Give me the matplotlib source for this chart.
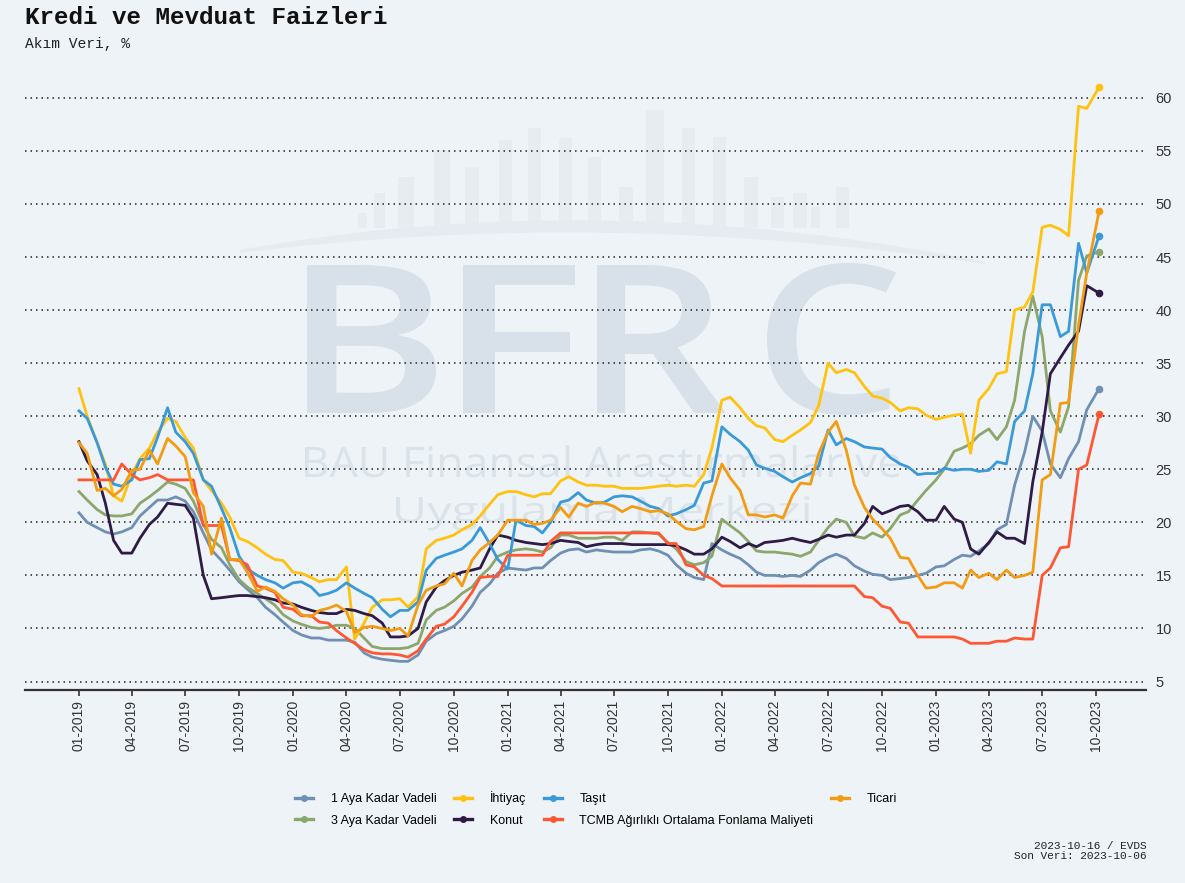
import matplotlib
matplotlib.use("Agg")
import numpy as np
import pandas as pd
import matplotlib.pyplot as plt
from matplotlib.lines import Line2D
from matplotlib.patches import PathPatch, Rectangle
from matplotlib.path import Path
from matplotlib.textpath import TextPath
from matplotlib.font_manager import FontProperties
from matplotlib.transforms import Affine2D

W, H = 1185, 883
BG = "#eef3f8"
SANS = "Liberation Sans"
MONO = "Liberation Mono"

# semi-monthly readings (1st and 15th), last point is the latest release
dates = pd.date_range("2019-01-01", "2023-09-15", freq="SMS").append(pd.DatetimeIndex(["2023-10-06"]))

dep_1m = [20.9, 20.0, 19.5, 19.1, 18.9, 19.1, 19.5, 20.6, 21.4, 22.1, 22.1, 22.4, 22.0, 21.0, 19.0, 17.4, 16.4, 15.5, 14.4, 13.7, 12.9, 12.0, 11.3, 10.6,
          9.8, 9.4, 9.1, 9.1, 8.9, 8.9, 8.9, 8.7, 7.7, 7.3, 7.1, 7.0, 6.9, 6.9, 7.5, 8.8, 9.5, 9.8, 10.2, 10.9, 12.1, 13.4, 14.2, 15.2,
          15.7, 15.6, 15.5, 15.7, 15.7, 16.4, 17.1, 17.4, 17.5, 17.2, 17.4, 17.3, 17.2, 17.2, 17.2, 17.4, 17.5, 17.3, 16.9, 16.0, 15.2, 14.8, 14.6, 18.0,
          17.4, 17.0, 16.6, 16.0, 15.3, 15.0, 15.0, 14.9, 15.0, 14.9, 15.5, 16.2, 16.7, 17.0, 16.6, 15.9, 15.4, 15.1, 15.0, 14.6, 14.7, 14.8, 15.0, 15.2,
          15.8, 15.9, 16.5, 16.9, 16.8, 17.3, 18.0, 19.3, 19.8, 23.5, 26.6, 30.0, 28.6, 25.5, 24.2, 26.0, 27.6, 30.6, 32.6]
dep_3m = [22.9, 22.1, 21.2, 20.7, 20.6, 20.6, 20.8, 21.8, 22.4, 23.0, 23.8, 23.6, 23.2, 22.0, 19.8, 18.4, 17.6, 16.0, 14.6, 13.9, 13.3, 12.8, 12.2, 11.3,
          10.7, 10.4, 10.1, 10.0, 10.1, 10.3, 10.3, 10.0, 9.1, 8.3, 8.1, 8.1, 8.1, 8.2, 8.6, 10.8, 11.7, 12.0, 12.6, 13.3, 13.9, 14.9, 15.7, 16.8,
          17.2, 17.4, 17.5, 17.4, 17.2, 17.6, 18.8, 18.8, 18.5, 18.5, 18.5, 18.6, 18.6, 18.3, 19.1, 19.1, 19.0, 18.9, 18.1, 17.5, 16.3, 16.0, 16.2, 16.8,
          20.3, 19.7, 19.0, 18.2, 17.3, 17.2, 17.2, 17.1, 17.0, 16.8, 17.2, 18.3, 19.5, 20.3, 20.0, 18.7, 18.5, 19.0, 18.6, 19.4, 20.7, 21.0, 22.1, 23.0,
          24.0, 25.0, 26.7, 27.0, 27.4, 28.2, 28.8, 27.8, 29.0, 31.5, 38.0, 41.3, 37.5, 30.5, 28.5, 30.9, 42.8, 45.1, 45.5]
personal = [32.6, 30.0, 27.5, 25.5, 22.5, 22.0, 24.5, 26.0, 27.0, 28.5, 29.8, 29.5, 28.0, 27.0, 24.0, 23.0, 21.8, 20.5, 18.5, 18.2, 17.6, 17.0, 16.5, 16.4,
            15.3, 15.2, 14.8, 14.4, 14.6, 14.6, 15.8, 9.0, 10.5, 12.0, 12.7, 12.7, 12.8, 12.0, 13.0, 17.5, 18.3, 18.5, 18.8, 19.3, 19.8, 20.6, 21.7, 22.6,
            22.9, 22.9, 22.6, 22.4, 22.7, 22.7, 23.9, 24.3, 23.8, 23.5, 23.5, 23.4, 23.4, 23.2, 23.2, 23.2, 23.3, 23.4, 23.5, 23.4, 23.5, 23.4, 24.5, 27.0,
            31.5, 31.8, 30.8, 29.8, 29.1, 28.9, 27.8, 27.6, 28.2, 28.7, 29.4, 31.0, 35.0, 34.1, 34.4, 34.1, 32.8, 31.9, 31.7, 31.3, 30.5, 30.8, 30.7, 30.1,
            29.7, 29.9, 30.1, 30.2, 26.5, 31.5, 32.6, 34.0, 34.2, 40.0, 40.3, 41.7, 47.8, 48.0, 47.6, 47.0, 59.2, 59.0, 61.0]
housing = [27.6, 25.8, 24.5, 21.8, 18.3, 17.1, 17.1, 18.5, 19.8, 20.5, 21.8, 21.7, 21.6, 20.4, 15.0, 12.8, 12.9, 13.0, 13.1, 13.1, 13.0, 12.9, 12.7, 12.4,
           12.3, 12.0, 11.7, 11.5, 11.4, 11.4, 11.8, 11.7, 11.4, 11.2, 10.5, 9.2, 9.2, 9.3, 10.0, 12.5, 13.9, 14.5, 15.0, 15.3, 15.5, 15.7, 17.5, 18.8,
           18.6, 18.3, 18.1, 18.0, 17.9, 18.0, 18.3, 18.2, 18.1, 17.7, 17.9, 18.0, 18.0, 18.0, 17.9, 17.9, 17.9, 17.9, 17.9, 17.8, 17.4, 17.0, 17.0, 17.5,
           18.6, 18.2, 17.6, 18.0, 17.7, 18.1, 18.2, 18.3, 18.5, 18.3, 18.1, 18.4, 18.8, 18.6, 18.8, 18.8, 19.9, 21.5, 20.8, 21.1, 21.5, 21.6, 21.0, 20.2,
           20.2, 21.5, 20.3, 20.0, 17.5, 17.0, 18.1, 19.1, 18.5, 18.5, 18.0, 23.8, 28.5, 34.0, 35.5, 36.7, 38.0, 42.3, 41.6]
vehicle = [30.5, 29.8, 27.5, 25.2, 23.6, 23.4, 24.0, 25.9, 26.0, 28.0, 30.8, 28.5, 27.6, 26.5, 24.0, 23.4, 21.3, 19.5, 16.8, 15.6, 15.0, 14.6, 14.3, 13.8,
           14.3, 14.4, 13.9, 13.1, 13.3, 13.6, 14.3, 13.8, 13.3, 12.9, 11.8, 11.1, 11.7, 11.7, 12.5, 15.5, 16.6, 16.9, 17.2, 17.5, 18.3, 19.5, 18.0, 16.5,
           15.6, 20.2, 19.7, 19.6, 19.0, 20.0, 21.9, 22.1, 22.8, 22.1, 21.8, 21.9, 22.4, 22.5, 22.4, 22.0, 21.5, 21.3, 20.6, 20.8, 21.2, 21.6, 23.7, 23.9,
           29.0, 28.3, 27.6, 26.8, 25.4, 25.1, 24.8, 24.3, 23.8, 24.2, 24.6, 25.3, 28.7, 27.3, 27.9, 27.6, 27.1, 27.0, 26.9, 26.1, 25.5, 25.2, 24.5, 24.6,
           24.6, 25.1, 24.9, 25.0, 25.0, 24.8, 24.9, 25.7, 25.5, 29.5, 30.5, 34.0, 40.5, 40.5, 37.5, 38.0, 46.3, 43.5, 47.0]
funding = [24.0, 24.0, 24.0, 24.0, 24.0, 25.5, 24.5, 24.0, 24.2, 24.5, 24.0, 24.0, 24.0, 24.0, 19.7, 19.7, 19.7, 16.5, 16.4, 16.0, 14.0, 13.8, 13.4, 12.0,
           11.8, 11.2, 11.2, 10.6, 10.5, 9.8, 9.1, 8.6, 8.0, 7.7, 7.6, 7.6, 7.5, 7.3, 7.9, 9.0, 10.2, 10.4, 11.1, 12.1, 13.4, 14.8, 14.9, 14.9,
           16.9, 16.9, 16.9, 16.9, 16.9, 18.2, 19.0, 19.0, 19.0, 19.0, 19.0, 19.0, 19.0, 19.0, 19.0, 19.0, 19.0, 19.0, 18.0, 18.0, 16.0, 15.8, 15.0, 14.7,
           14.0, 14.0, 14.0, 14.0, 14.0, 14.0, 14.0, 14.0, 14.0, 14.0, 14.0, 14.0, 14.0, 14.0, 14.0, 14.0, 13.0, 12.9, 12.1, 11.9, 10.6, 10.5, 9.2, 9.2,
           9.2, 9.2, 9.2, 9.0, 8.6, 8.6, 8.6, 8.8, 8.8, 9.1, 9.0, 9.0, 15.0, 15.7, 17.6, 17.7, 25.0, 25.4, 30.2]
commercial = [27.5, 26.5, 23.0, 23.2, 22.5, 23.1, 24.9, 25.0, 26.8, 25.5, 27.9, 27.2, 26.2, 22.8, 21.5, 17.0, 20.4, 16.5, 16.5, 15.3, 13.5, 13.9, 13.5, 12.8,
              12.2, 11.3, 11.1, 11.7, 11.9, 12.2, 11.6, 9.6, 10.1, 10.2, 10.0, 9.8, 10.0, 9.3, 12.2, 13.6, 14.0, 14.2, 15.2, 14.0, 16.4, 17.4, 18.1, 18.8,
              20.2, 20.2, 20.2, 19.8, 19.9, 20.2, 21.4, 20.5, 21.8, 21.5, 21.9, 21.8, 21.5, 21.0, 21.5, 21.3, 21.0, 21.1, 20.8, 20.1, 19.4, 19.3, 19.6, 22.5,
              25.5, 24.2, 23.0, 20.7, 20.7, 20.5, 20.7, 20.4, 22.5, 23.7, 23.6, 26.5, 28.5, 29.5, 26.8, 23.5, 21.4, 20.3, 19.4, 18.5, 16.7, 16.6, 15.0, 13.8,
              13.9, 14.3, 14.3, 13.8, 15.5, 14.8, 15.2, 14.6, 15.5, 14.8, 15.0, 15.3, 24.0, 24.5, 31.2, 31.3, 38.6, 43.5, 49.3]

labels = ["1 Aya Kadar Vadeli", "3 Aya Kadar Vadeli", "İhtiyaç", "Konut", "Taşıt",
          "TCMB Ağırlıklı Ortalama Fonlama Maliyeti", "Ticari"]
series = [dep_1m, dep_3m, personal, housing, vehicle, funding, commercial]
colors = ["#6f90b3", "#8ca66b", "#ffc20e", "#2e1b46", "#3a9ad9", "#ff5733", "#f39c12"]

yticks = list(range(5, 61, 5))
xticks = pd.date_range("2019-01-01", "2023-10-01", freq="QS")

fig = plt.figure(figsize=(W / 100, H / 100), dpi=100, facecolor=BG)

# --- faint BFRC watermark behind the plot ---
wm = fig.add_axes([0, 0, 1, 1], zorder=0)
wm.set_xlim(0, W); wm.set_ylim(0, H); wm.axis("off")
WM_COL = "#d8e1e9"


def stamp(ax, text, x0, x1, y_top, y_base, color, weight="normal"):
    fp = FontProperties(family="Open Sans", weight=weight)
    tp = TextPath((0, 0), text, size=1, prop=fp)
    ext = tp.get_extents()
    cap = TextPath((0, 0), "H", size=1, prop=fp).get_extents()
    sx = (x1 - x0) / ext.width
    sy = (y_base - y_top) / cap.y1
    tr = Affine2D().translate(-ext.x0, 0).scale(sx, sy).translate(x0, H - y_base)
    ax.add_patch(PathPatch(tr.transform_path(tp), fc=color, ec="none", lw=0))


skyline = [(358, 367, 213), (374, 385, 193), (398, 414, 177), (434, 450, 150), (465, 479, 167),
           (499, 512, 140), (528, 541, 128), (559, 572, 138), (588, 601, 157), (619, 633, 187),
           (646, 664, 110), (682, 695, 128), (713, 726, 137), (744, 758, 177), (771, 784, 197),
           (793, 807, 193), (811, 820, 207), (836, 849, 187)]
for x0, x1, top in skyline:
    wm.add_patch(Rectangle((x0, H - 228), x1 - x0, 228 - top, fc="#e7ecf1", ec="none"))
arc = Path([(240, H - 250), (600, H - 185), (985, H - 262), (985, H - 264), (600, H - 207), (240, H - 253), (240, H - 250)],
           [Path.MOVETO, Path.CURVE3, Path.CURVE3, Path.LINETO, Path.CURVE3, Path.CURVE3, Path.CLOSEPOLY])
wm.add_patch(PathPatch(arc, fc="#e5ebf0", ec="none"))
for ch, x0, x1 in [("B", 307, 436), ("F", 463, 575), ("R", 597, 726), ("C", 767, 896)]:
    stamp(wm, ch, x0, x1, 265, 413, WM_COL, weight="semibold")
stamp(wm, "BAU Finansal Araştırmalar ve", 305, 900, 447, 477, "#dbe3ea")
stamp(wm, "Uygulama Merkezi", 396, 809, 497, 522, "#dbe3ea")

# --- main chart ---
ax = fig.add_axes([25 / W, (H - 690) / H, 1121 / W, 624 / H], zorder=1)
ax.set_facecolor("none")
for vals, lab, col in zip(series, labels, colors):
    ax.plot(dates, vals, color=col, lw=2.0, marker="o", ms=4.5, markevery=[-1], label=lab,
            solid_joinstyle="round", zorder=3)

ax.set_xlim(pd.Timestamp("2018-10-01"), pd.Timestamp("2023-12-25"))
ax.set_ylim(4.2, 63)
ax.set_yticks(yticks)
ax.set_xticks(xticks)
ax.set_xticklabels([d.strftime("%m-%Y") for d in xticks], rotation=90, fontsize=10, family=SANS, color="#333333")
ax.yaxis.tick_right()
ax.tick_params(axis="y", length=0, pad=7, labelsize=10.5, labelcolor="#333333")
for t in ax.get_yticklabels():
    t.set_family(SANS)
ax.tick_params(axis="x", length=4, width=1.2, color="#333333", pad=3)
ax.grid(axis="y", color="#222222", linestyle=(0, (1, 2.6)), linewidth=1.1)
ax.set_axisbelow(True)
for side in ["top", "left", "right"]:
    ax.spines[side].set_visible(False)
ax.spines["bottom"].set_linewidth(1.6)
ax.spines["bottom"].set_color("#333333")

handles = [Line2D([], [], color=c, lw=2.4, marker="o", ms=4) for c in colors]
fig.legend(handles, labels, loc="upper center", bbox_to_anchor=(0.503, 1 - 780 / H), ncol=4,
           frameon=False, numpoints=1, handlelength=1.45, handletextpad=1.4, columnspacing=1.4,
           labelspacing=0.75, prop=FontProperties(family=SANS, size=9))

fig.text(25 / W, 1 - 18 / H, "Kredi ve Mevduat Faizleri", family=MONO, weight="bold", fontsize=17.5,
         va="center", ha="left", color="#111111")
fig.text(25 / W, 1 - 44 / H, "Akım Veri, %", family=MONO, fontsize=10.5, va="center", ha="left", color="#222222")
fig.text(1147 / W, 1 - 851 / H, "2023-10-16 / EVDS\nSon Veri: 2023-10-06", family=MONO, fontsize=8,
         va="center", ha="right", multialignment="right", linespacing=1.05, color="#222222")

fig.savefig("out.png", dpi=100, facecolor=BG)
